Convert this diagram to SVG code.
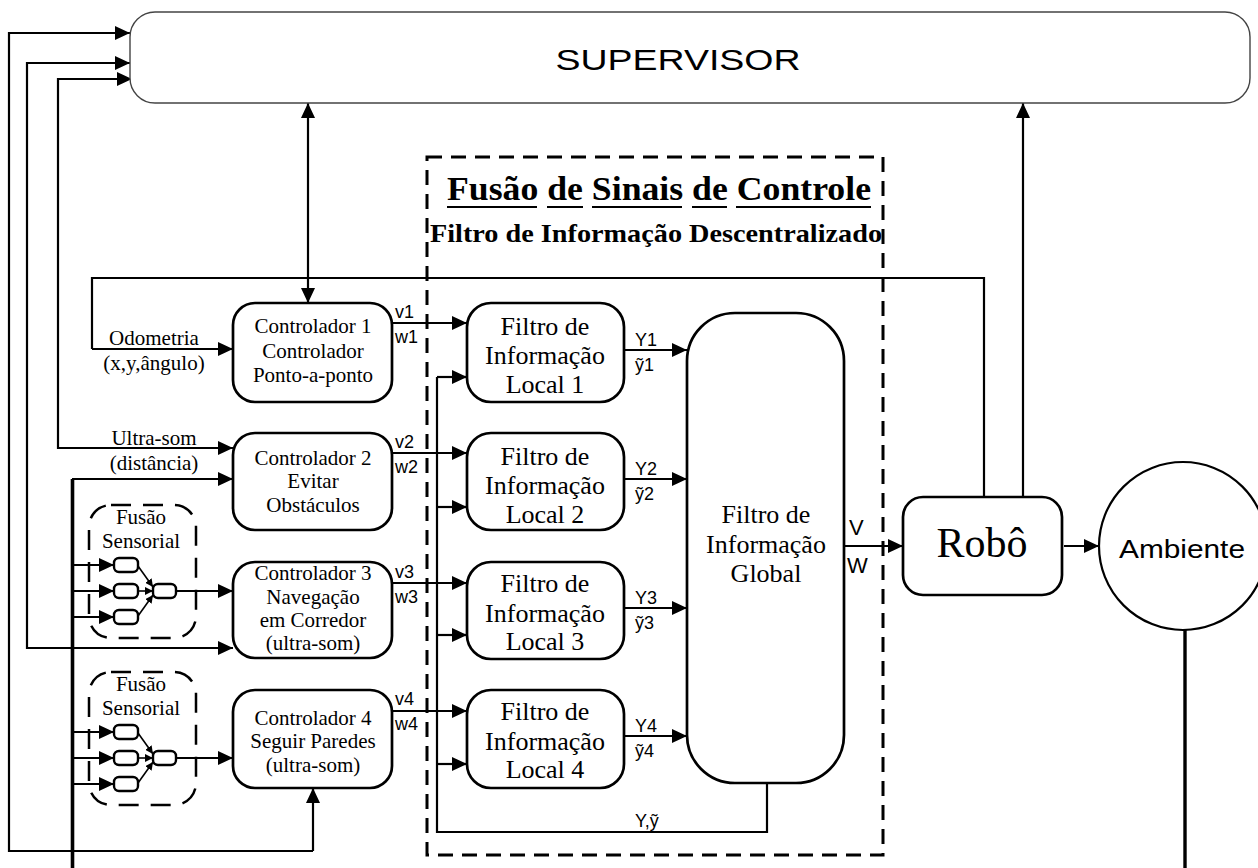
<svg xmlns="http://www.w3.org/2000/svg" width="1258" height="868" viewBox="0 0 1258 868">
<defs>
<marker id="ah" markerWidth="16" markerHeight="14" refX="15" refY="7" orient="auto" markerUnits="userSpaceOnUse"><path d="M0,0 L15,7 L0,14 z" fill="#000"/></marker>
<marker id="ahs" markerWidth="16" markerHeight="14" refX="15" refY="7" orient="auto-start-reverse" markerUnits="userSpaceOnUse"><path d="M0,0 L15,7 L0,14 z" fill="#000"/></marker>
<marker id="as" markerWidth="9" markerHeight="8" refX="8" refY="4" orient="auto" markerUnits="userSpaceOnUse"><path d="M0,0 L8,4 L0,8 z" fill="#000"/></marker>
</defs>
<style>
.serif{font-family:"Liberation Serif","Times New Roman",serif;fill:#000}
.sans{font-family:"Liberation Sans",Arial,sans-serif;fill:#000}
.box{fill:#fff;stroke:#000;stroke-width:2.7}
.ln{fill:none;stroke:#000;stroke-width:2.2}
.arr{fill:none;stroke:#000;stroke-width:2.2;marker-end:url(#ah)}
.sarr{fill:none;stroke:#000;stroke-width:1.6;marker-end:url(#as)}
.ctl{font-size:21px;text-anchor:middle}
.flt{font-size:26px;text-anchor:middle}
.lbl{font-size:18px}
.dash{fill:none;stroke:#000;stroke-width:3;stroke-dasharray:15 9}
.sdash{fill:none;stroke:#000;stroke-width:2.5;stroke-dasharray:20 12}
.small{fill:#fff;stroke:#000;stroke-width:2.4}
</style>

<g id="fusao-controle">
<rect class="dash" x="427" y="157" width="456" height="698"/>
<text class="serif" x="447" y="200" font-size="33" font-weight="bold" textLength="424" lengthAdjust="spacingAndGlyphs">Fusão de Sinais de Controle</text>
<g stroke="#000" stroke-width="2">
<line x1="447" y1="207" x2="537" y2="207"/>
<line x1="547" y1="207" x2="583" y2="207"/>
<line x1="592" y1="207" x2="682" y2="207"/>
<line x1="692" y1="207" x2="727" y2="207"/>
<line x1="736" y1="207" x2="871" y2="207"/>
</g>
<text class="serif" x="430" y="242" font-size="26" font-weight="bold" textLength="452" lengthAdjust="spacingAndGlyphs">Filtro de Informação Descentralizado</text>
</g>

<g id="connectors">
<!-- left feedback lines to supervisor -->
<polyline class="arr" points="313,851 9,851 9,33 130,33" style="marker-end:url(#ah)"/>
<line class="arr" x1="313" y1="851" x2="313" y2="788"/>
<polyline class="arr" points="233,648 27,648 27,63 130,63"/>
<line class="arr" x1="60" y1="648" x2="233" y2="648"/>
<polyline class="arr" points="233,448 58,448 58,79 132,79"/>
<line class="arr" x1="80" y1="448" x2="233" y2="448"/>
<!-- odometry loop -->
<polyline class="ln" points="984,497 984,278 92,278 92,349"/>
<line class="arr" x1="92" y1="349" x2="233" y2="349"/>
<!-- supervisor double arrow -->
<line class="ln" x1="308" y1="103" x2="308" y2="303" style="marker-start:url(#ahs);marker-end:url(#ahs)"/>
<!-- robot to supervisor -->
<line class="arr" x1="1023" y1="497" x2="1023" y2="103"/>
<!-- thick sensor bus -->
<line x1="72.5" y1="479" x2="72.5" y2="868" stroke="#000" stroke-width="3.6"/>
<line class="arr" x1="72" y1="479" x2="233" y2="479"/>
<!-- controller outputs -->
<line class="arr" x1="392" y1="323" x2="467" y2="323"/>
<line class="arr" x1="392" y1="453" x2="467" y2="453"/>
<line class="arr" x1="392" y1="583" x2="467" y2="583"/>
<line class="arr" x1="392" y1="711" x2="467" y2="711"/>
<!-- global feedback -->
<polyline class="ln" points="767,783 767,832 437,832 437,377"/>
<line class="arr" x1="437" y1="377" x2="467" y2="377"/>
<line class="arr" x1="437" y1="507" x2="467" y2="507"/>
<line class="arr" x1="437" y1="635" x2="467" y2="635"/>
<line class="arr" x1="437" y1="764" x2="467" y2="764"/>
<!-- local to global -->
<line class="arr" x1="624" y1="350" x2="687" y2="350"/>
<line class="arr" x1="624" y1="479" x2="687" y2="479"/>
<line class="arr" x1="624" y1="608" x2="687" y2="608"/>
<line class="arr" x1="624" y1="736" x2="687" y2="736"/>
<!-- global to robot to env -->
<line class="arr" x1="844" y1="546" x2="903" y2="546"/>
<line class="arr" x1="1064" y1="546" x2="1099" y2="546"/>
<line x1="1185" y1="630" x2="1185" y2="868" stroke="#000" stroke-width="3.4"/>
<!-- fusion group 1 -->
<line class="arr" x1="72" y1="565" x2="114" y2="565"/>
<line class="arr" x1="72" y1="591" x2="114" y2="591"/>
<line class="arr" x1="72" y1="617" x2="114" y2="617"/>
<line class="sarr" x1="138" y1="566" x2="153" y2="587"/>
<line class="sarr" x1="138" y1="591" x2="153" y2="591"/>
<line class="sarr" x1="138" y1="616" x2="153" y2="595"/>
<line class="arr" x1="176" y1="591" x2="233" y2="591"/>
<!-- fusion group 2 -->
<line class="arr" x1="72" y1="732" x2="114" y2="732"/>
<line class="arr" x1="72" y1="758" x2="114" y2="758"/>
<line class="arr" x1="72" y1="784" x2="114" y2="784"/>
<line class="sarr" x1="138" y1="733" x2="153" y2="754"/>
<line class="sarr" x1="138" y1="758" x2="153" y2="758"/>
<line class="sarr" x1="138" y1="783" x2="153" y2="762"/>
<line class="arr" x1="176" y1="758" x2="233" y2="758"/>
</g>

<g id="connector-labels">
<text class="serif" x="154" y="345" font-size="21" text-anchor="middle">Odometria</text>
<text class="serif" x="154" y="370" font-size="21" text-anchor="middle">(x,y,ângulo)</text>
<text class="serif" x="154" y="445" font-size="21" text-anchor="middle">Ultra-som</text>
<text class="serif" x="154" y="470" font-size="21" text-anchor="middle">(distância)</text>
<text class="sans lbl" x="395" y="318">v1</text>
<text class="sans lbl" x="395" y="343">w1</text>
<text class="sans lbl" x="395" y="448">v2</text>
<text class="sans lbl" x="395" y="473">w2</text>
<text class="sans lbl" x="395" y="578">v3</text>
<text class="sans lbl" x="395" y="603">w3</text>
<text class="sans lbl" x="395" y="705">v4</text>
<text class="sans lbl" x="395" y="730">w4</text>
<text class="sans lbl" x="635" y="346">Y1</text>
<text class="sans lbl" x="635" y="371">ỹ1</text>
<text class="sans lbl" x="635" y="475">Y2</text>
<text class="sans lbl" x="635" y="500">ỹ2</text>
<text class="sans lbl" x="635" y="604">Y3</text>
<text class="sans lbl" x="635" y="629">ỹ3</text>
<text class="sans lbl" x="635" y="732">Y4</text>
<text class="sans lbl" x="635" y="757">ỹ4</text>
<text class="sans lbl" x="635" y="827">Y,ỹ</text>
<text class="sans" x="849" y="535" font-size="22">V</text>
<text class="sans" x="847" y="573" font-size="22">W</text>
</g>

<g id="supervisor">
<rect x="130" y="12" width="1120" height="91" rx="25" fill="#fff" stroke="#444" stroke-width="1.4"/>
<text class="sans" x="678" y="70" font-size="30" text-anchor="middle" textLength="245" lengthAdjust="spacingAndGlyphs">SUPERVISOR</text>
</g>

<g id="controlador1">
<rect class="box" x="233" y="303" width="159" height="99" rx="22"/>
<text class="serif ctl" x="313" y="333">Controlador 1</text>
<text class="serif ctl" x="313" y="358">Controlador</text>
<text class="serif ctl" x="313" y="382">Ponto-a-ponto</text>
</g>
<g id="controlador2">
<rect class="box" x="233" y="433" width="159" height="97" rx="22"/>
<text class="serif ctl" x="313" y="465">Controlador 2</text>
<text class="serif ctl" x="313" y="488">Evitar</text>
<text class="serif ctl" x="313" y="512">Obstáculos</text>
</g>
<g id="controlador3">
<rect class="box" x="233" y="562" width="159" height="96" rx="22"/>
<text class="serif ctl" x="313" y="580">Controlador 3</text>
<text class="serif ctl" x="313" y="604">Navegação</text>
<text class="serif ctl" x="313" y="627">em Corredor</text>
<text class="serif ctl" x="313" y="650">(ultra-som)</text>
</g>
<g id="controlador4">
<rect class="box" x="233" y="690" width="159" height="98" rx="22"/>
<text class="serif ctl" x="313" y="725">Controlador 4</text>
<text class="serif ctl" x="313" y="748">Seguir Paredes</text>
<text class="serif ctl" x="313" y="772">(ultra-som)</text>
</g>

<g id="fusao-sensorial-1">
<rect class="sdash" x="89" y="505" width="107" height="133" rx="22"/>
<text class="serif" x="141" y="524" font-size="21" text-anchor="middle">Fusão</text>
<text class="serif" x="141" y="548" font-size="21" text-anchor="middle">Sensorial</text>
<rect class="small" x="114" y="558" width="24" height="14" rx="5"/>
<rect class="small" x="114" y="584" width="24" height="14" rx="5"/>
<rect class="small" x="114" y="610" width="24" height="14" rx="5"/>
<rect class="small" x="153" y="584" width="23" height="14" rx="5"/>
</g>
<g id="fusao-sensorial-2">
<rect class="sdash" x="89" y="672" width="107" height="133" rx="22"/>
<text class="serif" x="141" y="691" font-size="21" text-anchor="middle">Fusão</text>
<text class="serif" x="141" y="715" font-size="21" text-anchor="middle">Sensorial</text>
<rect class="small" x="114" y="725" width="24" height="14" rx="5"/>
<rect class="small" x="114" y="751" width="24" height="14" rx="5"/>
<rect class="small" x="114" y="777" width="24" height="14" rx="5"/>
<rect class="small" x="153" y="751" width="23" height="14" rx="5"/>
</g>

<g id="filtro-local-1">
<rect class="box" x="467" y="303" width="157" height="99" rx="24"/>
<text class="serif flt" x="545" y="335">Filtro de</text>
<text class="serif flt" x="545" y="364">Informação</text>
<text class="serif flt" x="545" y="393">Local 1</text>
</g>
<g id="filtro-local-2">
<rect class="box" x="467" y="433" width="157" height="97" rx="24"/>
<text class="serif flt" x="545" y="465">Filtro de</text>
<text class="serif flt" x="545" y="494">Informação</text>
<text class="serif flt" x="545" y="523">Local 2</text>
</g>
<g id="filtro-local-3">
<rect class="box" x="467" y="562" width="157" height="97" rx="24"/>
<text class="serif flt" x="545" y="592">Filtro de</text>
<text class="serif flt" x="545" y="622">Informação</text>
<text class="serif flt" x="545" y="650">Local 3</text>
</g>
<g id="filtro-local-4">
<rect class="box" x="467" y="690" width="157" height="98" rx="24"/>
<text class="serif flt" x="545" y="720">Filtro de</text>
<text class="serif flt" x="545" y="750">Informação</text>
<text class="serif flt" x="545" y="778">Local 4</text>
</g>

<g id="filtro-global">
<rect class="box" x="687" y="313" width="157" height="470" rx="48"/>
<text class="serif flt" x="766" y="523">Filtro de</text>
<text class="serif flt" x="766" y="553">Informação</text>
<text class="serif flt" x="766" y="582">Global</text>
</g>

<g id="robo">
<rect class="box" x="903" y="497" width="159" height="98" rx="20"/>
<text class="serif" x="982" y="557" font-size="42" text-anchor="middle">Robô</text>
</g>

<g id="ambiente">
<circle cx="1183" cy="546" r="84" fill="#fff" stroke="#000" stroke-width="2.2"/>
<text class="sans" x="1182" y="558" font-size="26" text-anchor="middle" textLength="126" lengthAdjust="spacingAndGlyphs">Ambiente</text>
</g>
</svg>
